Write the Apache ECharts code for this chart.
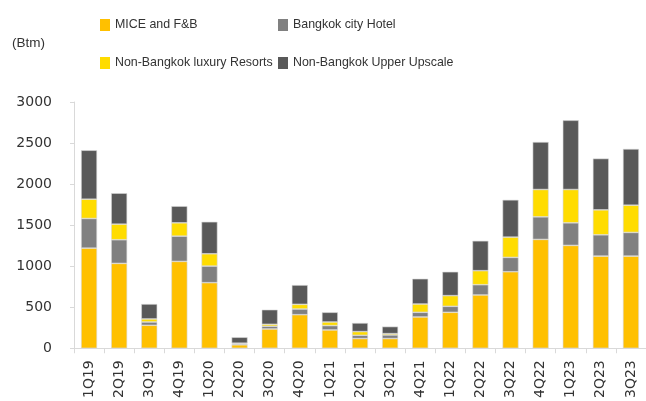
<!DOCTYPE html>
<html><head><meta charset="utf-8">
<script src="https://cdn.jsdelivr.net/npm/echarts@6/dist/echarts.min.js"></script>
<style>html,body{margin:0;padding:0;background:#fff}#c{width:646px;height:401px}</style>
</head><body><div id="c"></div>
<script>
var categories = ['1Q19','2Q19','3Q19','4Q19','1Q20','2Q20','3Q20','4Q20','1Q21','2Q21','3Q21','4Q21','1Q22','2Q22','3Q22','4Q22','1Q23','2Q23','3Q23'];
var miceFB      = [1220,1034,280,1058,799,42,235,409,223,118,118,381,438,649,932,1326,1253,1123,1123];
var bkkCity     = [361,288,40,308,202,12,33,69,53,40,44,57,73,125,175,275,275,259,288];
var nbkkLuxury  = [235,190,37,162,150,8,24,57,44,45,16,101,130,171,247,333,406,304,332];
var nbkkUpper   = [596,377,182,203,390,72,178,235,118,105,86,308,291,364,454,579,843,625,685];
var yTicks = [0,500,1000,1500,2000,2500,3000];
var seriesNames = ['MICE and F&B','Bangkok city Hotel','Non-Bangkok luxury Resorts','Non-Bangkok Upper Upscale'];
var colors = ['#FFC000','#808080','#FFDC00','#595959'];

var font = '"Liberation Sans", Arial, sans-serif';
var axisFont = '"DejaVu Sans", sans-serif';
var chart = echarts.init(document.getElementById('c'), null, {renderer:'canvas'});
var dataArr = [miceFB, bkkCity, nbkkLuxury, nbkkUpper];
var legendPos = [[95,14],[273,14],[95,52],[273,52]];
var option = {
  animation:false,
  textStyle:{fontFamily:font},
  title:{text:'(Btm)', left:7, top:31, textStyle:{fontSize:13.5, fontWeight:'normal', color:'#333', fontFamily:font}},
  legend: seriesNames.map(function(n,i){
    return {data:[n], left:legendPos[i][0], top:legendPos[i][1], itemWidth:10, itemHeight:12, itemGap:4,
      itemStyle:{borderWidth:0},
      textStyle:{fontSize:12.4, color:'#333', fontFamily:font}, icon:'rect', selectedMode:false};
  }),
  grid:{left:74, top:102, width:574, height:247, containLabel:false},
  xAxis:{type:'category', data:categories,
    axisLine:{lineStyle:{color:'#d9d9d9'}},
    axisTick:{show:true, length:5, lineStyle:{color:'#d9d9d9'}},
    axisLabel:{rotate:90, fontSize:14, color:'#333', margin:12, fontFamily:axisFont, interval:0}},
  yAxis:{type:'value', min:0, max:3000, interval:500,
    axisLine:{show:true, lineStyle:{color:'#d9d9d9'}},
    axisTick:{show:true, length:4, lineStyle:{color:'#d9d9d9'}},
    splitLine:{show:false},
    axisLabel:{fontSize:14, color:'#333', margin:22, fontFamily:axisFont,
      formatter:function(v){return String(v);}}},
  series: seriesNames.map(function(n,i){
    return {name:n, type:'bar', stack:'a', data:dataArr[i], barWidth:16,
      itemStyle:{color:colors[i], borderColor:'#d6d6d6', borderWidth:0.6}};
  })
};
chart.setOption(option);
</script></body></html>
